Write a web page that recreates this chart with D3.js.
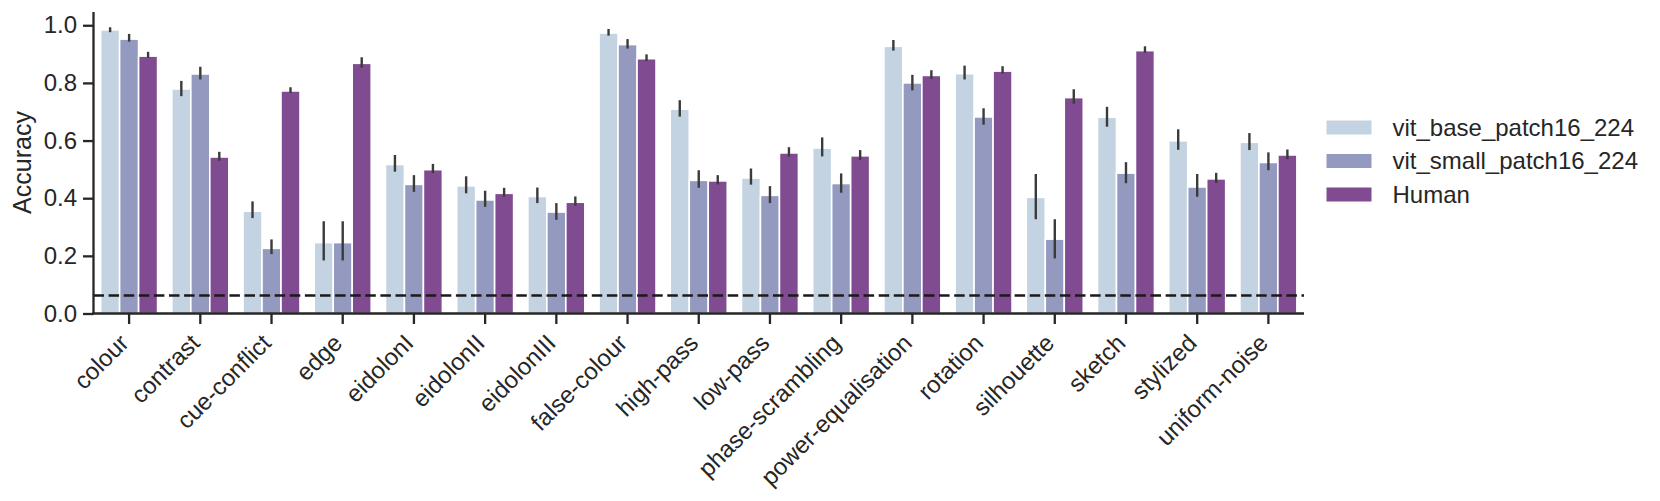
<!DOCTYPE html>
<html>
<head>
<meta charset="utf-8">
<script src="https://cdn.jsdelivr.net/npm/d3@7"></script>
<style>
  html, body { margin: 0; padding: 0; background: #fff; }
  svg { display: block; font-family: "Liberation Sans", Arial, sans-serif; }
</style>
</head>
<body>
<svg id="chart" width="1660" height="501"></svg>
<script>
const categories = ["colour", "contrast", "cue-conflict", "edge", "eidolonI", "eidolonII", "eidolonIII",
  "false-colour", "high-pass", "low-pass", "phase-scrambling", "power-equalisation", "rotation",
  "silhouette", "sketch", "stylized", "uniform-noise"];
const seriesNames = ["vit_base_patch16_224", "vit_small_patch16_224", "Human"];

const vitBase   = [0.984, 0.779, 0.355, 0.246, 0.517, 0.443, 0.406, 0.973, 0.709, 0.470, 0.574, 0.927, 0.832, 0.403, 0.681, 0.599, 0.594];
const vitBaseLo = [0.976, 0.754, 0.331, 0.184, 0.492, 0.417, 0.383, 0.964, 0.683, 0.447, 0.545, 0.912, 0.812, 0.327, 0.648, 0.568, 0.567];
const vitBaseHi = [0.993, 0.807, 0.389, 0.320, 0.550, 0.476, 0.437, 0.987, 0.740, 0.503, 0.611, 0.949, 0.860, 0.484, 0.717, 0.639, 0.626];

const vitSmall   = [0.952, 0.831, 0.226, 0.246, 0.448, 0.394, 0.352, 0.933, 0.462, 0.410, 0.451, 0.800, 0.682, 0.258, 0.487, 0.439, 0.524];
const vitSmallLo = [0.943, 0.812, 0.206, 0.184, 0.422, 0.370, 0.325, 0.919, 0.436, 0.383, 0.419, 0.774, 0.655, 0.191, 0.452, 0.405, 0.497];
const vitSmallHi = [0.970, 0.856, 0.257, 0.320, 0.480, 0.426, 0.383, 0.952, 0.497, 0.442, 0.486, 0.828, 0.712, 0.327, 0.525, 0.484, 0.559];

const human   = [0.893, 0.543, 0.772, 0.868, 0.499, 0.417, 0.386, 0.884, 0.460, 0.557, 0.547, 0.826, 0.841, 0.749, 0.912, 0.467, 0.550];
const humanLo = [0.887, 0.530, 0.765, 0.853, 0.487, 0.405, 0.374, 0.876, 0.448, 0.544, 0.533, 0.814, 0.832, 0.728, 0.905, 0.453, 0.535];
const humanHi = [0.908, 0.561, 0.785, 0.889, 0.519, 0.436, 0.406, 0.899, 0.480, 0.577, 0.567, 0.844, 0.858, 0.778, 0.927, 0.488, 0.569];

const yTicks = [0.0, 0.2, 0.4, 0.6, 0.8, 1.0];
const chanceLevel = 1 / 16;
const colors = ["#c4d3e2", "#949abf", "#814b91"];

(function () {
const means = [vitBase, vitSmall, human];
const los = [vitBaseLo, vitSmallLo, humanLo];
const his = [vitBaseHi, vitSmallHi, humanHi];

const svg = d3.select("#chart");
const plotLeft = 93.5, plotRight = 1304, plotTop = 12, plotBottom = 313.5;
const axisColor = "#262626";
const fontSize = 24;

const x = d3.scaleBand().domain(categories).range([plotLeft, plotRight]).paddingInner(0).paddingOuter(0);
const inner = d3.scaleBand().domain(seriesNames).range([x.bandwidth() * 0.1, x.bandwidth() * 0.9]).padding(0);
const y = d3.scaleLinear().domain([0, 1.046]).range([plotBottom, plotTop]);

const rows = [];
categories.forEach((c, i) => {
  seriesNames.forEach((s, j) => {
    rows.push({ cat: c, series: s, j, v: means[j][i], lo: los[j][i], hi: his[j][i] });
  });
});

svg.append("g").selectAll("rect").data(rows).join("rect")
  .attr("x", d => x(d.cat) + inner(d.series))
  .attr("y", d => y(d.v))
  .attr("width", inner.bandwidth())
  .attr("height", d => y(0) - y(d.v))
  .attr("fill", d => colors[d.j])
  .attr("stroke", "#ffffff")
  .attr("stroke-width", 1.6);

svg.append("g").selectAll("line").data(rows).join("line")
  .attr("x1", d => x(d.cat) + inner(d.series) + inner.bandwidth() / 2)
  .attr("x2", d => x(d.cat) + inner(d.series) + inner.bandwidth() / 2)
  .attr("y1", d => y(d.lo))
  .attr("y2", d => y(d.hi))
  .attr("stroke", "#3b3b3b")
  .attr("stroke-width", 2.4);

svg.append("line")
  .attr("x1", plotLeft).attr("x2", plotRight)
  .attr("y1", y(chanceLevel)).attr("y2", y(chanceLevel))
  .attr("stroke", "#1a1a1a")
  .attr("stroke-width", 2.6)
  .attr("stroke-dasharray", "10.5,4.6");

const yAxis = d3.axisLeft(y).tickValues(yTicks).tickFormat(d3.format(".1f")).tickSize(10.5).tickPadding(6);
const gy = svg.append("g").attr("transform", `translate(${plotLeft},0)`).call(yAxis);
gy.select(".domain").attr("d", `M0,${plotTop}V${plotBottom}`).attr("stroke", axisColor).attr("stroke-width", 2.3);
gy.selectAll(".tick line").attr("stroke", axisColor).attr("stroke-width", 2.3);
gy.selectAll(".tick text").attr("font-size", fontSize).attr("fill", "#262626")
  .attr("font-family", '"Liberation Sans", Arial, sans-serif');

const xAxis = d3.axisBottom(x).tickSize(10.5).tickPadding(6);
const gx = svg.append("g").attr("transform", `translate(0,${plotBottom})`).call(xAxis);
gx.select(".domain").attr("d", `M${plotLeft - 1.15},0H${plotRight}`).attr("stroke", axisColor).attr("stroke-width", 2.3);
gx.selectAll(".tick line").attr("stroke", axisColor).attr("stroke-width", 2.3);
gx.selectAll(".tick text")
  .attr("font-size", fontSize).attr("fill", "#262626")
  .attr("font-family", '"Liberation Sans", Arial, sans-serif')
  .attr("text-anchor", "end")
  .attr("dy", null)
  .attr("y", 0)
  .attr("x", 0)
  .attr("transform", "translate(1,31) rotate(-45)");

svg.append("text")
  .attr("transform", `translate(31,162.5) rotate(-90)`)
  .attr("text-anchor", "middle")
  .attr("font-size", 25)
  .attr("fill", "#262626")
  .text("Accuracy");

const legend = svg.append("g");
const legendY = d3.scalePoint().domain(seriesNames).range([127.5, 194.5]);
seriesNames.forEach((s, j) => {
  legend.append("rect")
    .attr("x", 1326).attr("y", legendY(s) - 7.5)
    .attr("width", 46).attr("height", 15)
    .attr("fill", colors[j]).attr("stroke", "#ffffff").attr("stroke-width", 1);
  legend.append("text")
    .attr("x", 1392.5).attr("y", legendY(s))
    .attr("dy", "0.35em")
    .attr("font-size", fontSize)
    .attr("fill", "#262626")
    .text(s);
});
})();
</script>
</body>
</html>
